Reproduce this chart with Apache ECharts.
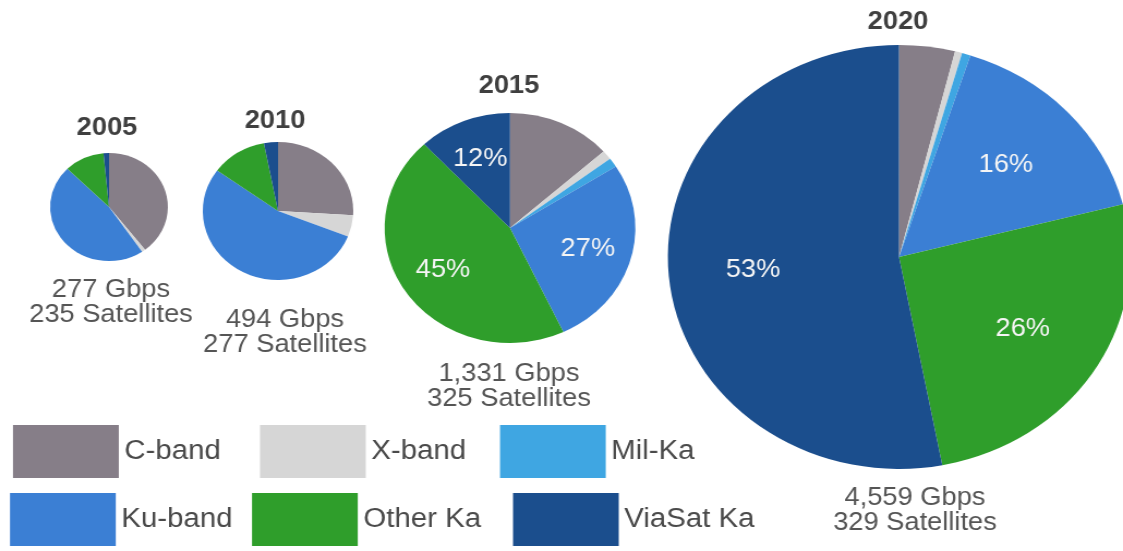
<!DOCTYPE html>
<html>
<head>
<meta charset="utf-8">
<script src="https://cdn.jsdelivr.net/npm/echarts@6/dist/echarts.min.js"></script>
<style>
  html, body { margin: 0; padding: 0; background: #ffffff; overflow: hidden; }
  /* the slide artwork is drawn slightly wider than tall, so the canvas is stretched horizontally */
  #chart { width: 1030px; height: 551px; transform: scaleX(1.0903); transform-origin: 0 0; }
</style>
</head>
<body>
<div id="chart"></div>
<script>
// ---- data ----
const years = ['2005', '2010', '2015', '2020'];
const bands = ['C-band', 'X-band', 'Mil-Ka', 'Ku-band', 'Other Ka', 'ViaSat Ka'];
// capacity share per band (%), in band order
const share2005 = [39.5, 1, 0, 47, 11, 1.5];
const share2010 = [26, 5, 0, 54, 12, 3];
const share2015 = [13.4, 1.3, 1.3, 27, 45, 12];
const share2020 = [3.9, 0.5, 0.6, 16, 26, 53];
const capacityGbps = [277, 494, 1331, 4559];
const satellites = [235, 277, 325, 329];
// slices carrying a percentage label
const labelledBands = ['Ku-band', 'Other Ka', 'ViaSat Ka'];
const labelledYears = ['2015', '2020'];

// ---- styling / layout ----
const SX = 1.0903;                 // horizontal stretch of the canvas
const bandColors = ['#867e88', '#d6d6d6', '#3fa6e2', '#3b7fd4', '#2f9e2b', '#1b4e8d'];
const FONT = "'Liberation Sans', Arial, Helvetica, sans-serif";

// pie placement in page pixels
const pies = [
  { cx: 109, cy: 207, r: 54 },
  { cx: 278, cy: 211, r: 69 },
  { cx: 510, cy: 228, r: 115 },
  { cx: 899, cy: 257, r: 212 }
];
const yearTitlePos = [
  { x: 107, y: 116 }, { x: 275, y: 109 }, { x: 509, y: 74 }, { x: 898, y: 10 }
];
const statsPos = [
  { x: 111, y: 278 }, { x: 285, y: 308 }, { x: 509, y: 362 }, { x: 915, y: 486 }
];
const legendPos = [
  { x: 13, y: 425 }, { x: 260, y: 425 }, { x: 500, y: 425 },
  { x: 10, y: 493 }, { x: 252, y: 493 }, { x: 513, y: 493 }
];
const legendOrder = ['C-band', 'X-band', 'Mil-Ka', 'Ku-band', 'Other Ka', 'ViaSat Ka'];

const shares = [share2005, share2010, share2015, share2020];
const fmt = n => n.toLocaleString('en-US');

function slices(vals, transparent) {
  return bands.map((b, i) => ({
    name: b,
    value: vals[i],
    itemStyle: { color: transparent ? 'rgba(0,0,0,0)' : bandColors[i] }
  }));
}

const series = [];
years.forEach((y, k) => {
  const p = pies[k];
  series.push({
    type: 'pie',
    name: y,
    center: [p.cx / SX, p.cy],
    radius: [0, p.r],
    startAngle: 90,
    clockwise: true,
    data: slices(shares[k], false),
    label: { show: false },
    labelLine: { show: false },
    itemStyle: { borderWidth: 0 },
    emphasis: { scale: false }
  });
});
// percentage labels sit on a transparent ring so they land further out in each slice
years.forEach((y, k) => {
  if (!labelledYears.includes(y)) return;
  const p = pies[k];
  series.push({
    type: 'pie',
    name: y + ' labels',
    center: [p.cx / SX, p.cy],
    radius: [p.r * 0.24, p.r],
    startAngle: 90,
    clockwise: true,
    silent: true,
    data: slices(shares[k], true),
    label: {
      show: true,
      position: 'inside',
      color: '#f5f5f5',
      fontSize: 25,
      fontFamily: FONT,
      formatter: prm => labelledBands.includes(prm.name) ? Math.round(prm.value) + '%' : ''
    },
    labelLine: { show: false },
    emphasis: { disabled: true }
  });
});

const titles = [];
years.forEach((y, k) => {
  titles.push({
    text: y,
    left: yearTitlePos[k].x / SX,
    top: yearTitlePos[k].y,
    textAlign: 'center',
    padding: 0,
    textStyle: { fontSize: 25, fontWeight: 'bold', color: '#3f3f3f', fontFamily: FONT }
  });
  titles.push({
    text: fmt(capacityGbps[k]) + ' Gbps\n' + satellites[k] + ' Satellites',
    left: statsPos[k].x / SX,
    top: statsPos[k].y,
    textAlign: 'center',
    padding: 0,
    textStyle: { fontSize: 25, fontWeight: 'normal', color: '#555555', fontFamily: FONT, lineHeight: 25 }
  });
});

const legends = legendOrder.map((name, i) => ({
  data: [name],
  left: legendPos[i].x / SX,
  top: legendPos[i].y,
  orient: 'horizontal',
  icon: 'rect',
  itemWidth: 97,
  itemHeight: 53,
  itemGap: 0,
  padding: 0,
  textStyle: { fontSize: 27, color: '#4a4a4a', fontFamily: FONT }
}));

const chart = echarts.init(document.getElementById('chart'), null, { renderer: 'canvas' });
chart.setOption({
  backgroundColor: '#ffffff',
  animation: false,
  color: bandColors,
  title: titles,
  legend: legends,
  tooltip: { trigger: 'item', formatter: '{a}<br/>{b}: {c}%' },
  series: series
});
</script>
</body>
</html>
